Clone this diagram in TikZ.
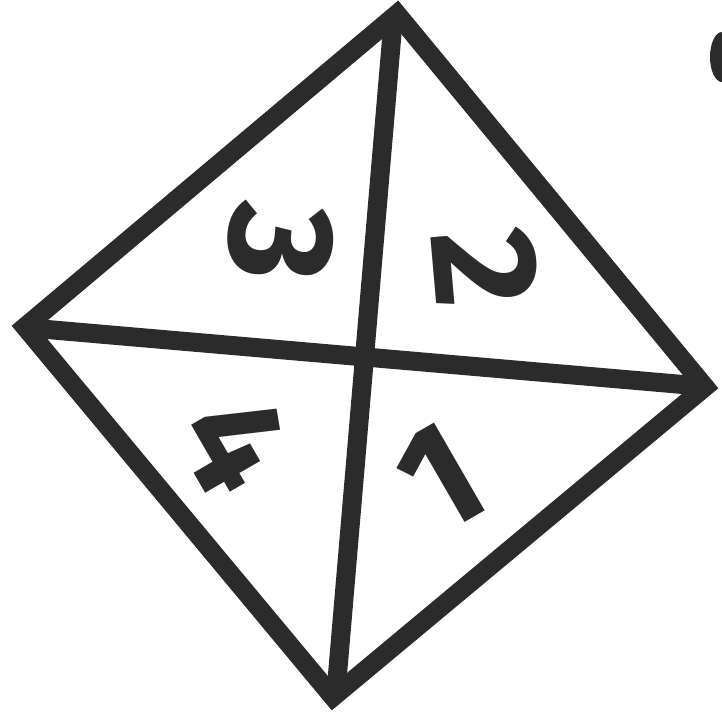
\documentclass[tikz,border=0pt]{standalone}
\usepackage{fontspec}
\setmainfont{Fira Sans}
\definecolor{ink}{HTML}{2B2B2B}
\tikzset{
  edge/.style={draw=ink, line width=19pt, line join=miter, line cap=butt},
  digit/.style={text=ink, font=\fontsize{150}{150}\selectfont\bfseries, inner sep=0pt}
}
\begin{document}
\begin{tikzpicture}[x=1pt, y=1pt]
\useasboundingbox (0,0) rectangle (722,720);
\clip (0,0) rectangle (722,720);
% reference pixel (x, y) -> (x, 720 - y)
\coordinate (T) at (397,706);
\coordinate (R) at (705,333);
\coordinate (B) at (333,23);
\coordinate (L) at (25,393);
\coordinate (VT) at (393,698);
\coordinate (VB) at (336,28);
\coordinate (HL) at (30,392);
\coordinate (HR) at (700,334);
\draw[edge] (T) -- (R) -- (B) -- (L) -- cycle;
\draw[edge] (VT) -- (VB);
\draw[edge] (HL) -- (HR);
\fill[ink] (722,663) ellipse (12 and 25);
\node[digit, rotate=-95] (d3) at (280,477) {3};
\node[digit, rotate=-85] (d2) at (485,452) {2};
\node[digit, rotate=-60] (d4) at (237,277) {4};
\node[digit, rotate=30] (d1) at (440,242) {1};
\end{tikzpicture}
\end{document}
